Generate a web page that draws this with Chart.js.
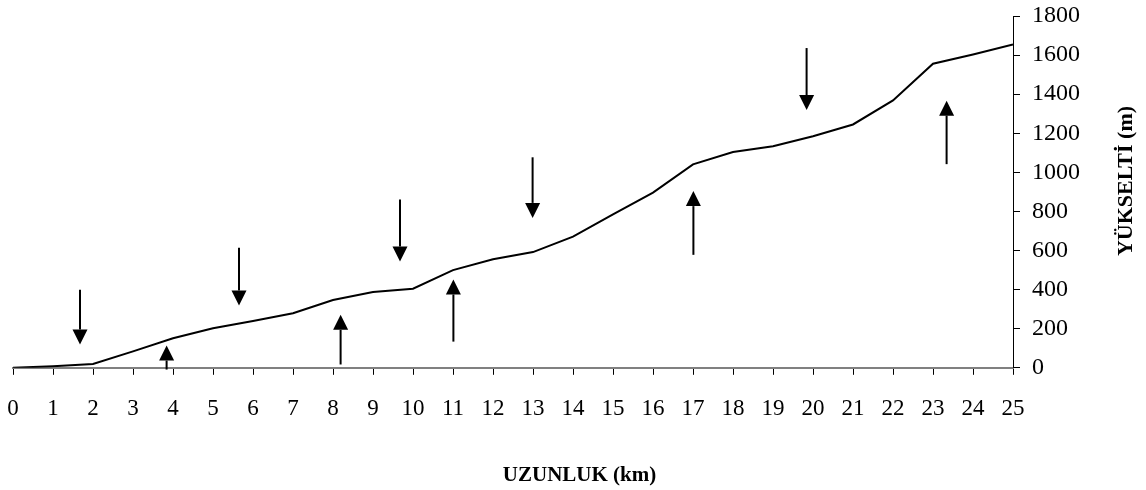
<!DOCTYPE html>
<html>
<head>
<meta charset="utf-8">
<script src="https://cdn.jsdelivr.net/npm/chart.js@4"></script>
<style>
  html, body { margin: 0; padding: 0; background: #fff; }
  #wrap { width: 1146px; height: 490px; position: relative; }
</style>
</head>
<body>
<div id="wrap"><canvas id="c"></canvas></div>
<script>
// Distance (km) and elevation (m)
const distanceKm = [0,1,2,3,4,5,6,7,8,9,10,11,12,13,14,15,16,17,18,19,20,21,22,23,24,25];
const elevationM = [0,8,20,84,151,202,240,279,347,388,405,500,555,592,671,785,896,1041,1104,1134,1185,1245,1368,1556,1603,1654];

// Y tick values
const yTicks = [0,200,400,600,800,1000,1200,1400,1600,1800];

// Annotation arrows (km position, start elevation, end elevation)
const downArrowKm   = [1.675, 5.65, 9.675, 12.99, 19.84];
const downArrowFrom = [399, 614, 861, 1077, 1636];
const downArrowTo   = [119, 319, 544, 767, 1319];
const upArrowKm     = [3.84, 8.19, 11.01, 17.01, 23.34];
const upArrowFrom   = [-9, 17, 134, 578, 1042];
const upArrowTo     = [114, 271, 452, 904, 1367];

const xTitle = 'UZUNLUK (km)';
const yTitle = 'YÜKSELTİ (m)';

const FONT = '"Liberation Serif", "Times New Roman", serif';

const points = distanceKm.map((x, i) => ({ x: x, y: elevationM[i] }));

function zeroPadding(s) {
  s.paddingLeft = 0; s.paddingRight = 0; s.paddingTop = 0; s.paddingBottom = 0;
}

const arrowPlugin = {
  id: 'arrows',
  afterDatasetsDraw(chart) {
    const ctx = chart.ctx;
    const xs = chart.scales.x, ys = chart.scales.y;
    const head = 15, halfW = 7.5;
    function draw(km, from, to) {
      const px = xs.getPixelForValue(km);
      const y1 = ys.getPixelForValue(from);
      const y2 = ys.getPixelForValue(to);
      const dir = y2 > y1 ? 1 : -1;
      const base = y2 - dir * head;
      ctx.save();
      ctx.strokeStyle = '#000';
      ctx.fillStyle = '#000';
      ctx.lineWidth = 2;
      ctx.beginPath();
      ctx.moveTo(px, y1);
      ctx.lineTo(px, base);
      ctx.stroke();
      ctx.beginPath();
      ctx.moveTo(px - halfW, base);
      ctx.lineTo(px + halfW, base);
      ctx.lineTo(px, y2);
      ctx.closePath();
      ctx.fill();
      ctx.restore();
    }
    downArrowKm.forEach((k, i) => draw(k, downArrowFrom[i], downArrowTo[i]));
    upArrowKm.forEach((k, i) => draw(k, upArrowFrom[i], upArrowTo[i]));
  }
};

const yTitlePlugin = {
  id: 'yTitle',
  afterDraw(chart) {
    const ctx = chart.ctx;
    ctx.save();
    ctx.translate(1126, 181);
    ctx.rotate(-Math.PI / 2);
    ctx.font = 'bold 22px ' + FONT;
    ctx.fillStyle = '#000';
    ctx.textAlign = 'center';
    ctx.textBaseline = 'middle';
    ctx.fillText(yTitle, 0, 0);
    ctx.restore();
  }
};

new Chart(document.getElementById('c'), {
  type: 'line',
  data: {
    datasets: [{
      data: points,
      borderColor: '#000',
      borderWidth: 2,
      pointRadius: 0,
      tension: 0,
      fill: false
    }]
  },
  options: {
    responsive: true,
    maintainAspectRatio: false,
    animation: false,
    layout: { padding: { left: 13, top: 16, right: 0, bottom: 0 } },
    plugins: {
      legend: { display: false },
      tooltip: { enabled: false },
      title: {
        display: true,
        position: 'bottom',
        text: xTitle,
        color: '#000',
        font: { family: FONT, size: 21, weight: 'bold' },
        padding: { top: 0, bottom: 2 }
      }
    },
    scales: {
      x: {
        type: 'linear',
        min: 0,
        max: 25,
        afterFit(s) { s.height = 95; zeroPadding(s); },
        ticks: {
          stepSize: 1,
          color: '#000',
          padding: 20,
          maxRotation: 0,
          autoSkip: false,
          font: { family: FONT, size: 23 }
        },
        afterBuildTicks(s) { s.ticks = distanceKm.map(v => ({ value: v })); },
        grid: { drawOnChartArea: false, drawTicks: true, tickLength: 7, color: '#000', lineWidth: 1 },
        border: { display: true, color: '#808080', width: 2 }
      },
      y: {
        position: 'right',
        min: 0,
        max: 1800,
        afterFit(s) { s.width = 133; zeroPadding(s); },
        afterBuildTicks(s) { s.ticks = yTicks.map(v => ({ value: v })); },
        ticks: {
          color: '#000',
          padding: 12,
          font: { family: FONT, size: 24 },
          callback: v => String(v)
        },
        grid: { drawOnChartArea: false, drawTicks: true, tickLength: 7, color: '#000', lineWidth: 1 },
        border: { display: true, color: '#000', width: 1 }
      }
    }
  },
  plugins: [arrowPlugin, yTitlePlugin]
});
</script>
</body>
</html>
